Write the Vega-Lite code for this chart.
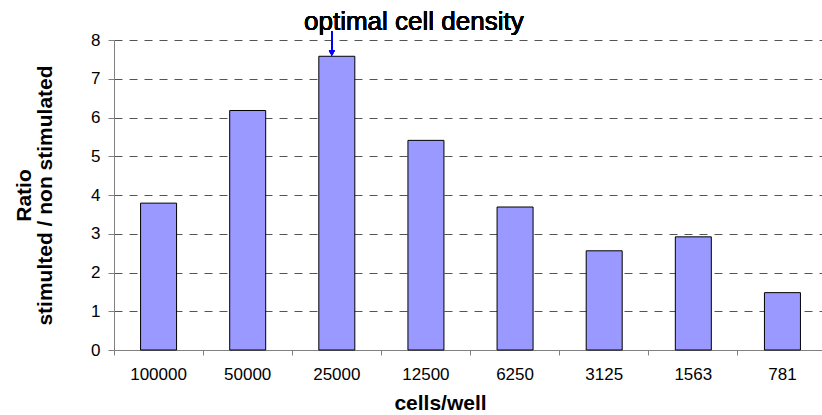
{
  "$schema": "https://vega.github.io/schema/vega-lite/v6.json",
  "width": 713,
  "height": 310,
  "autosize": {"type": "none"},
  "padding": {"left": 114, "top": 40, "right": 0, "bottom": 65},
  "background": "white",
  "config": {
    "view": {"stroke": null},
    "font": "Liberation Sans",
    "axis": {"labelFont": "Liberation Sans", "titleFont": "Liberation Sans"}
  },
  "data": {
    "values": [
      {"cells": "100000", "ratio": 3.79},
      {"cells": "50000", "ratio": 6.18},
      {"cells": "25000", "ratio": 7.58},
      {"cells": "12500", "ratio": 5.41},
      {"cells": "6250", "ratio": 3.69},
      {"cells": "3125", "ratio": 2.56},
      {"cells": "1563", "ratio": 2.92},
      {"cells": "781", "ratio": 1.48}
    ]
  },
  "encoding": {
    "x": {
      "field": "cells",
      "type": "nominal",
      "sort": null,
      "scale": {"paddingInner": 0, "paddingOuter": 0},
      "axis": {
        "title": "cells/well",
        "titleFontSize": 21,
        "titleFontWeight": "bold",
        "titleColor": "#000",
        "titleX": 326,
        "titleY": 59,
        "titleBaseline": "alphabetic",
        "labelAngle": 0,
        "labelFontSize": 17,
        "labelColor": "#000",
        "labelPadding": 11,
        "bandPosition": 0,
        "tickSize": 5,
        "tickColor": "#808080",
        "domainColor": "#808080",
        "grid": false
      }
    },
    "y": {
      "field": "ratio",
      "type": "quantitative",
      "scale": {"domain": [0, 8], "nice": false},
      "axis": {
        "title": ["Ratio", "stimulted / non stimulated"],
        "titleFontSize": 21,
        "titleFontWeight": "bold",
        "titleColor": "#000",
        "titleLineHeight": 21,
        "titlePadding": 35,
        "values": [0, 1, 2, 3, 4, 5, 6, 7, 8],
        "labelFontSize": 17,
        "labelColor": "#000",
        "labelPadding": 8,
        "tickSize": 6,
        "tickColor": "#808080",
        "domainColor": "#808080",
        "grid": true,
        "gridColor": "#555555",
        "gridDash": [8, 7],
        "gridWidth": 1
      }
    }
  },
  "layer": [
    {
      "mark": {"type": "bar", "size": 36, "color": "#9999FF", "stroke": "#000", "strokeWidth": 1}
    },
    {
      "mark": {"type": "rule", "color": "#0000FF", "strokeWidth": 1.5, "xOffset": -5},
      "encoding": {
        "x": {"datum": "25000"},
        "y": {"datum": 8.23},
        "y2": {"datum": 7.7}
      }
    },
    {
      "mark": {"type": "point", "shape": "triangle-down", "filled": true, "color": "#0000FF", "size": 35, "xOffset": -5, "opacity": 1},
      "encoding": {
        "x": {"datum": "25000"},
        "y": {"datum": 7.66}
      }
    },
    {
      "mark": {"type": "text", "text": "optimal cell density", "fontSize": 26, "fontWeight": "normal", "align": "center", "baseline": "alphabetic", "dx": 77, "color": "#000"},
      "encoding": {
        "x": {"datum": "25000"},
        "y": {"datum": 8.26}
      }
    }
  ]
}
